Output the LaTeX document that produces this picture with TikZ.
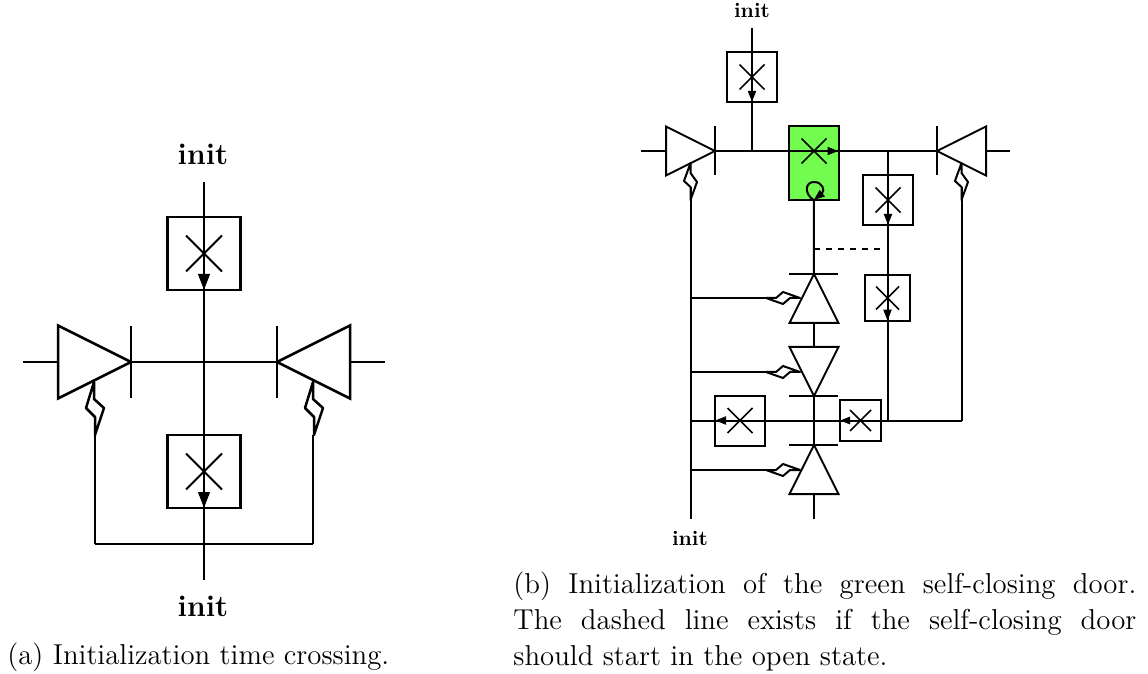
\documentclass[tikz,border=0pt]{standalone}
\usetikzlibrary{shapes.geometric,shapes.misc,arrows.meta}

\definecolor{doorgreen}{RGB}{115,252,80}

\tikzset{
  gate/.style={draw, isosceles triangle, isosceles triangle stretches, inner sep=0pt, outer sep=0pt, minimum width=#1, minimum height=#1},
  xbox/.style={draw, rectangle, inner sep=0pt, outer sep=0pt, minimum size=#1},
  xmark/.style={draw, cross out, inner sep=0pt, outer sep=0pt, minimum size=#1},
  tip/.style={-{Triangle[length=#1, width=0.72*#1]}},
  caption/.style={anchor=base west, inner sep=0pt, font=\fontsize{14.4}{18}\selectfont},
}

\begin{document}
\begin{tikzpicture}[x=0.5pt, y=-0.5pt]
\useasboundingbox (0,0) rectangle (1148,674);

% left crossing
\begin{scope}[line width=1.25pt]
\node[inner sep=0pt, font=\fontsize{15}{18}\selectfont\bfseries] (inita1) at (203,154) {init};
\node[inner sep=0pt, font=\fontsize{15}{18}\selectfont\bfseries] (inita2) at (203,606) {init};

\coordinate (atop) at (204,182);
\coordinate (abot) at (204,580);
\coordinate (amid) at (204,362);
\coordinate (arail) at (204,544);

\node[gate=36.5pt, anchor=apex] (ta1) at (131,362) {};
\node[gate=36.5pt, anchor=apex, rotate=180] (ta2) at (277,362) {};
\node[xbox=36.5pt] (ba1) at (204,253.5) {};
\node[xbox=36.5pt] (ba2) at (204,471.5) {};
\node[xmark=18pt, line width=1pt] (xa1) at (ba1) {};
\node[xmark=18pt, line width=1pt] (xa2) at (ba2) {};

\coordinate (la1) at (23,362);
\coordinate (la2) at (385,362);
\coordinate (ra1) at (95,544);
\coordinate (ra2) at (313,544);

\draw (atop) -- (abot);
\draw (la1) -- (ta1.lower side);
\draw (la2) -- (ta2.lower side);
\draw (ta1.apex) -- (ta2.apex);
\draw (131,326) -- (131,398);
\draw (277,326) -- (277,398);
\draw[tip=8pt] (ba1.center) -- (ba1.south);
\draw[tip=8pt] (ba2.center) -- (ba2.south);
\draw (ra1) -- (ra2);
\draw (ra1) -- (95,435);
\draw (ra2) -- (313,435);

% wiggles on the left crossing
\foreach \wx in {94,313}{
  \draw[line join=round] (\wx,382) -- ++(0,17) -- ++(10,9) -- ++(-9,27) -- ++(0,-18) -- ++(-9,-9) -- cycle;
}
\end{scope}

% right crossing
\begin{scope}[line width=1pt]
\node[inner sep=0pt, font=\fontsize{10.4}{12}\selectfont\bfseries] (initb1) at (752,10) {init};
\node[inner sep=0pt, font=\fontsize{10.4}{12}\selectfont\bfseries] (initb2) at (690,538) {init};

\coordinate (btop) at (752,28);
\coordinate (bjoin) at (752,151);
\coordinate (bmid) at (888,151);
\coordinate (bcross) at (888,421);
\coordinate (bstart) at (690.5,187);
\coordinate (bend) at (690.5,519);
\coordinate (cstart) at (961.5,187);
\coordinate (cend) at (961.5,421);
\coordinate (cleft) at (690.5,421);
\coordinate (dash1) at (814,249);
\coordinate (dash2) at (882,249);
\coordinate (foot) at (814,519);

\node[gate=24.5pt, anchor=apex] (tb1) at (715,151) {};
\node[gate=24.5pt, anchor=apex, rotate=180] (tb2) at (937,151) {};
\node[gate=24.5pt, anchor=apex, rotate=90] (tb3) at (814,274) {};
\node[gate=24.5pt, anchor=apex, rotate=-90] (tb4) at (814,396) {};
\node[gate=24.5pt, anchor=apex, rotate=90] (tb5) at (814,445) {};

\node[xbox=25pt] (bb1) at (752,77) {};
\node[draw, fill=doorgreen, minimum width=24.75pt, minimum height=37pt, inner sep=0pt, outer sep=0pt] (door) at (813.75,163) {};
\node[xbox=25pt] (bb2) at (888,200) {};
\node[xbox=22.75pt] (bb3) at (887.5,298) {};
\node[xbox=25pt] (bb4) at (740,420.5) {};
\node[xbox=20.5pt] (bb5) at (860.5,420.5) {};

\node[xmark=12.5pt, line width=0.8pt] (xb1) at (bb1) {};
\node[xmark=12.5pt, line width=0.8pt] (xb2) at (814,151) {};
\node[xmark=12.5pt, line width=0.8pt] (xb3) at (bb2) {};
\node[xmark=11.5pt, line width=0.8pt] (xb4) at (bb3) {};
\node[xmark=12.5pt, line width=0.8pt] (xb5) at (bb4) {};
\node[xmark=10.5pt, line width=0.8pt] (xb6) at (bb5) {};

\draw (btop) -- (bjoin);
\draw (641,151) -- (tb1.lower side);
\draw (1010,151) -- (tb2.lower side);
\draw (tb1.apex) -- (tb2.apex);
\draw (715,126) -- (715,175);
\draw (937,126) -- (937,175);
\draw (bmid) -- (bcross);
\draw (bstart) -- (bend);
\draw (cstart) -- (cend);
\draw (cend) -- (cleft);
\draw (door.south) -- (tb3.apex);
\draw (789,274) -- (838,274);
\draw (tb3.lower side) -- (tb4.lower side);
\draw (789,396) -- (838,396);
\draw (tb4.apex) -- (tb5.apex);
\draw (789,445) -- (838,445);
\draw (tb5.lower side) -- (foot);
\draw[dashed] (dash1) -- (dash2);

\draw[tip=5.5pt] (bb1.center) -- (bb1.south);
\draw[tip=5.5pt] (xb2.center) -- (door.east |- xb2);
\draw[tip=5.5pt] (bb2.center) -- (bb2.south);
\draw[tip=5.5pt] (bb3.center) -- (bb3.south);
\draw[tip=5.5pt] (bb4.center) -- (bb4.west);
\draw[tip=5pt] (bb5.center) -- (bb5.west);
\draw[tip=5.5pt] (door.south) .. controls (804,194) and (805,182) .. (814,182) .. controls (823,182) and (825,191) .. (door.south);

% wiggles on the right crossing
\foreach \wx in {690.5,961.5}{
  \draw[line join=round] (\wx,163) -- ++(0,10) -- ++(6.5,9) -- ++(-6.5,18) -- ++(0,-13) -- ++(-6.5,-6) -- cycle;
}
\foreach \wy in {298,372,470}{
  \draw[line join=round] (800,\wy) -- ++(-10,0) -- ++(-7,6) -- ++(-17,-6) -- ++(10,0) -- ++(7,-6) -- cycle;
  \draw (690.5,\wy) -- (766,\wy);
}
\end{scope}

\node[caption] (capa) at (7,664) {(a) Initialization time crossing.};
\node[caption, anchor=north west, text width=311.5pt, align=justify] (capb) at (513,571) {(b) Initialization of the green self-closing door.\linebreak The dashed line exists if the self-closing door\linebreak should start in the open state.};
\end{tikzpicture}
\end{document}
